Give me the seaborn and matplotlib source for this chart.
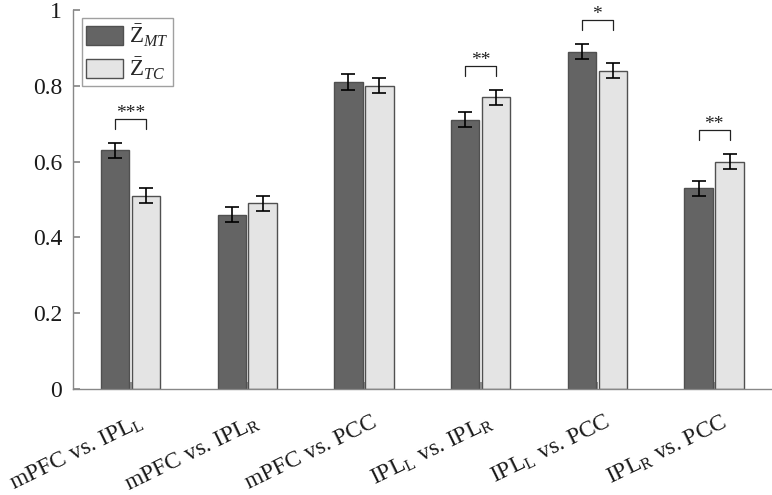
import pandas as pd
import numpy as np
import matplotlib
matplotlib.use("Agg")
import matplotlib.pyplot as plt
import matplotlib.transforms as mtransforms
import seaborn as sb

pairs = [r"mPFC vs. IPL$_\mathrm{L}$", r"mPFC vs. IPL$_\mathrm{R}$", "mPFC vs. PCC",
         r"IPL$_\mathrm{L}$ vs. IPL$_\mathrm{R}$", r"IPL$_\mathrm{L}$ vs. PCC", r"IPL$_\mathrm{R}$ vs. PCC"]
z_mt = [0.63, 0.46, 0.81, 0.71, 0.89, 0.53]
z_tc = [0.51, 0.49, 0.80, 0.77, 0.84, 0.60]
err_mt = [0.02, 0.02, 0.02, 0.02, 0.02, 0.02]
err_tc = [0.02, 0.02, 0.02, 0.02, 0.02, 0.02]
stars = ["***", "", "", "**", "*", "**"]
series = [r"$\bar{\mathrm{Z}}_{MT}$", r"$\bar{\mathrm{Z}}_{TC}$"]

df = pd.DataFrame({
    "pair": pairs * 2,
    "z": z_mt + z_tc,
    "err": err_mt + err_tc,
    "series": [series[0]] * 6 + [series[1]] * 6,
})

sb.set_theme(style="white")
plt.rcParams['font.family'] = ['Liberation Serif', 'DejaVu Serif']
plt.rcParams['mathtext.fontset'] = 'custom'
plt.rcParams['mathtext.rm'] = 'Liberation Serif'
plt.rcParams['mathtext.it'] = 'Liberation Serif:italic'

fig, ax = plt.subplots(figsize=(7.72, 4.95), dpi=100)
fig.subplots_adjust(left=0.095, right=0.999, bottom=0.214, top=0.98)

sb.barplot(x="pair", y="z", hue="series", data=df, order=pairs, hue_order=series,
           palette=["#646464", "#e4e4e4"], width=0.53, gap=0.08, errorbar=None,
           edgecolor="#505050", linewidth=1.0, saturation=1, ax=ax)

# error bars at bar centres
errs = [err_mt, err_tc]
bar_conts = list(ax.containers)
centres = []
for k, cont in enumerate(bar_conts):
    xs = [b.get_x() + b.get_width() / 2 for b in cont]
    hs = [b.get_height() for b in cont]
    ax.errorbar(xs, hs, yerr=errs[k], fmt="none", ecolor="black", elinewidth=1.2,
                capsize=4.8, capthick=1.2)
    centres.append(xs)

# significance brackets
for i, s in enumerate(stars):
    if not s:
        continue
    top = max(z_mt[i] + err_mt[i], z_tc[i] + err_tc[i]) + 0.036
    x0, x1 = centres[0][i], centres[1][i]
    ax.plot([x0, x0, x1, x1], [top, top + 0.027, top + 0.027, top], color="#222222", lw=0.9)
    ax.text((x0 + x1) / 2, top + 0.029, s, ha="center", va="baseline",
            fontsize=14, color="#222222")

ax.set_xlim(-0.49, 5.49)
ax.set_ylim(0, 1)
ax.set_yticks([0, 0.2, 0.4, 0.6, 0.8, 1])
ax.set_yticklabels(["0", "0.2", "0.4", "0.6", "0.8", "1"])
ax.set_xlabel("")
ax.set_ylabel("")
for side in ["top", "right"]:
    ax.spines[side].set_visible(False)
for side in ["left", "bottom"]:
    ax.spines[side].set_color("#888888")
    ax.spines[side].set_linewidth(1.0)
ax.tick_params(axis="both", direction="in", length=5, color="#888888", labelsize=17,
               labelcolor="#1a1a1a", left=True, bottom=True)
ax.tick_params(axis="y", pad=8)
ax.tick_params(axis="x", pad=16)
shift = mtransforms.ScaledTranslation(5 / 72, 0, fig.dpi_scale_trans)
for lab in ax.get_xticklabels():
    lab.set_rotation(26)
    lab.set_ha("right")
    lab.set_va("top")
    lab.set_rotation_mode("anchor")
    lab.set_transform(lab.get_transform() + shift)

leg = ax.legend(loc="upper left", bbox_to_anchor=(0.012, 0.978), fontsize=16.5, frameon=True,
                fancybox=False, edgecolor="#888888", handlelength=1.6, handleheight=0.9,
                borderpad=0.2, labelspacing=0.3, handletextpad=0.25, borderaxespad=0)
leg.get_frame().set_linewidth(1.0)

plt.savefig("out.png", dpi=100)
